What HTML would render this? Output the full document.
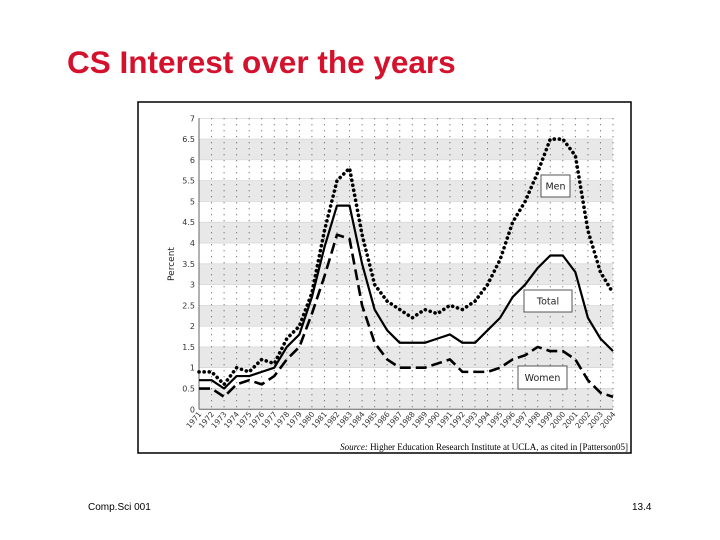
<!DOCTYPE html>
<html><head><meta charset="utf-8"><style>
body{margin:0;width:720px;height:540px;background:#fff;position:relative;overflow:hidden;font-family:"Liberation Sans",sans-serif}
#title{position:absolute;left:67px;top:44px;font-size:31.5px;font-weight:bold;color:#d4122d;margin:0;white-space:nowrap}
.foot{position:absolute;top:502px;font-size:10px;color:#000}
</style></head><body>
<h1 id="title">CS Interest over the years</h1>
<svg id="chart" width="720" height="540" style="position:absolute;left:0;top:0"></svg>
<div class="foot" style="left:88px">Comp.Sci 001</div>
<div class="foot" style="left:632px">13.4</div>
<script>
const years=[1971,1972,1973,1974,1975,1976,1977,1978,1979,1980,1981,1982,1983,1984,1985,1986,1987,1988,1989,1990,1991,1992,1993,1994,1995,1996,1997,1998,1999,2000,2001,2002,2003,2004];
const men=[0.9,0.9,0.6,1.0,0.9,1.2,1.1,1.7,2.0,2.8,4.3,5.5,5.8,4.2,3.0,2.6,2.4,2.2,2.4,2.3,2.5,2.4,2.6,3.0,3.6,4.5,5.0,5.7,6.5,6.5,6.1,4.3,3.3,2.8];
const total=[0.7,0.7,0.5,0.8,0.8,0.9,1.0,1.5,1.8,2.7,3.9,4.9,4.9,3.5,2.4,1.9,1.6,1.6,1.6,1.7,1.8,1.6,1.6,1.9,2.2,2.7,3.0,3.4,3.7,3.7,3.3,2.2,1.7,1.4];
const women=[0.5,0.5,0.3,0.6,0.7,0.6,0.8,1.2,1.5,2.3,3.2,4.2,4.1,2.5,1.6,1.2,1.0,1.0,1.0,1.1,1.2,0.9,0.9,0.9,1.0,1.2,1.3,1.5,1.4,1.4,1.2,0.7,0.4,0.3];
const yTicks=[0,0.5,1,1.5,2,2.5,3,3.5,4,4.5,5,5.5,6,6.5,7];
const X0=199,X1=613,Y0=409.3,Y1=118.3;
const xs=i=>X0+(X1-X0)*i/(years.length-1);
const ys=v=>Y0+(Y1-Y0)*v/7;
const svg=document.getElementById('chart');
const NS='http://www.w3.org/2000/svg';
function mk(t,a,p){const e=document.createElementNS(NS,t);for(const k in a)e.setAttribute(k,a[k]);(p||svg).appendChild(e);return e;}
const frame=mk('rect',{x:138,y:102,width:493,height:351,fill:'#fff',stroke:'#000','stroke-width':1.5});


for(let k=0;k<7;k++){
 const b=mk('rect',{x:X0,y:ys(k+0.5),width:X1-X0,height:ys(k)-ys(k+0.5),fill:'#e8e8e8'});
 
 
}
yTicks.forEach(v=>{
 mk('line',{x1:X0,x2:X1,y1:ys(v),y2:ys(v),stroke:'#d0d0d0','stroke-width':0.6});
 const t=mk('text',{x:X0-4,y:ys(v)+3,'font-size':8,'text-anchor':'end',fill:'#333','font-family':'DejaVu Sans, sans-serif'});
 t.textContent=v;
 
 
});
years.forEach((y,i)=>{
 mk('line',{x1:xs(i),x2:xs(i),y1:Y1,y2:Y0,stroke:'#555','stroke-width':1,'stroke-dasharray':'1 5'});
 const t=mk('text',{x:xs(i)+3,y:Y0+5,'font-size':7.5,'text-anchor':'end',fill:'#333','font-family':'DejaVu Sans, sans-serif',transform:`rotate(-50 ${xs(i)+3} ${Y0+5})`});
 t.textContent=y;
 
 
});
mk('line',{x1:X0,x2:X0,y1:Y1,y2:Y0,stroke:'#666'});
mk('line',{x1:X0,x2:X1,y1:Y0,y2:Y0,stroke:'#666'});
const yt=mk('text',{x:174,y:264,'font-size':9,'text-anchor':'middle',fill:'#222','font-family':'DejaVu Sans, sans-serif',transform:'rotate(-90 174 264)'});
yt.textContent='Percent';


function line(d,dash,w,name,cap){
 const p=mk('polyline',{points:d.map((v,i)=>xs(i)+','+ys(v)).join(' '),fill:'none',stroke:'#000','stroke-width':w,'stroke-dasharray':dash,'stroke-linejoin':'round','stroke-linecap':cap||'butt'});
 
 
}
line(men,'0.1 5',3.6,'men-line','round');
line(total,'',2.2,'total-line');
line(women,'11 5',2.6,'women-line');
function leg(x,y,w,h,txt,name){
 const r=mk('rect',{x:x,y:y,width:w,height:h,fill:'#fff',stroke:'#555','stroke-width':1});
 
 
 const t=mk('text',{x:x+w/2,y:y+h/2+3.5,'font-size':9.5,'text-anchor':'middle',fill:'#222','font-family':'DejaVu Sans, sans-serif'});
 t.textContent=txt;
 
 
}
leg(541,175,29,22,'Men','legend-men');
leg(524,290,48,22,'Total','legend-total');
leg(518,366,49,23,'Women','legend-women');
const s=mk('text',{x:628,y:450,'font-size':9,'text-anchor':'end',fill:'#000','font-family':'Liberation Serif, serif'});
s.innerHTML='<tspan font-style="italic">Source:</tspan> Higher Education Research Institute at UCLA, as cited in [Patterson05]';


</script>
</body></html>
